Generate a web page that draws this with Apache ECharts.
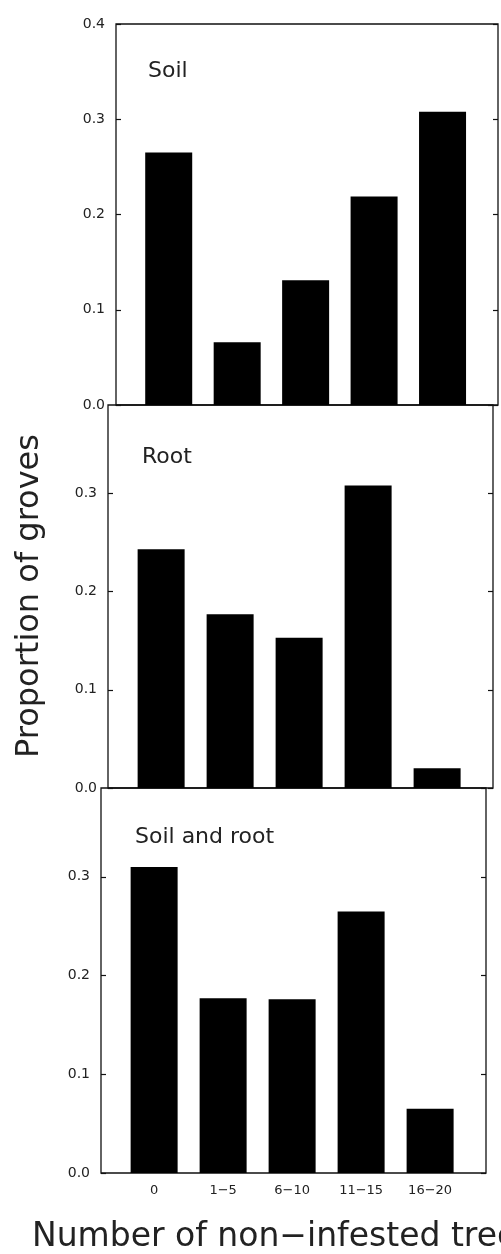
<!DOCTYPE html>
<html>
<head>
<meta charset="utf-8">
<script src="https://cdn.jsdelivr.net/npm/echarts@6/dist/echarts.min.js"></script>
<style>
html,body{margin:0;padding:0;background:#fff;}
#chart{width:501px;height:1254px;}
</style>
</head>
<body>
<div id="chart"></div>
<script>
const categories = ['0', '1\u22125', '6\u221210', '11\u221215', '16\u221220'];
const panelNames = ['Soil', 'Root', 'Soil and root'];
const soil = [0.265, 0.066, 0.131, 0.219, 0.308];
const root = [0.243, 0.177, 0.153, 0.308, 0.020];
const soilAndRoot = [0.310, 0.177, 0.176, 0.265, 0.065];
const panelMax = [0.4, 0.39, 0.39];
const yTitle = 'Proportion of groves';
const xTitle = 'Number of non\u2212infested trees';

const seriesValues = [soil, root, soilAndRoot];
const FONT = 'DejaVu Sans';
const TXT = '#222';

const grids = [
  {top: 24, height: 381, left: 116, right: 3},
  {top: 405, height: 383, left: 108, right: 8},
  {top: 788, height: 385, left: 101, right: 15}
];
const labelPos = [[143, 55], [137, 441], [130, 821]];

const option = {
  backgroundColor: '#fff',
  animation: false,
  grid: grids.map(g => Object.assign({show: true, borderColor: '#111', borderWidth: 1.3, backgroundColor: 'transparent'}, g)),
  xAxis: grids.map((g, i) => ({
    type: 'value', gridIndex: i, min: -0.77, max: 4.81,
    axisLine: {show: false, onZero: false}, splitLine: {show: false},
    axisTick: {show: false},
    axisLabel: i === 2 ? {
      show: true, customValues: categories.map((c, k) => k),
      formatter: v => categories[Math.round(v)],
      fontFamily: FONT, fontSize: 13, color: TXT, margin: 11
    } : {show: false}
  })),
  yAxis: [].concat(...grids.map((g, i) => [
    {
      type: 'value', gridIndex: i, position: 'left', min: 0, max: panelMax[i], interval: 0.1,
      axisLine: {show: false, onZero: false}, splitLine: {show: false},
      axisTick: {show: true, inside: true, length: 5, lineStyle: {color: '#111', width: 1.2}},
      axisLabel: {show: true, showMaxLabel: i === 0, formatter: v => v.toFixed(1),
        fontFamily: FONT, fontSize: 14, color: TXT, margin: 11}
    },
    {
      type: 'value', gridIndex: i, position: 'right', min: 0, max: panelMax[i], interval: 0.1,
      axisLine: {show: false, onZero: false}, splitLine: {show: false},
      axisTick: {show: true, inside: true, length: 5, lineStyle: {color: '#111', width: 1.2}},
      axisLabel: {show: false}
    }
  ])),
  series: seriesValues.map((vals, i) => ({
    type: 'bar', xAxisIndex: i, yAxisIndex: i * 2, barWidth: 47,
    itemStyle: {color: '#000'},
    data: vals.map((v, k) => [k, v])
  })),
  title: panelNames.map((n, i) => ({
    text: n, left: labelPos[i][0], top: labelPos[i][1],
    textStyle: {fontFamily: FONT, fontSize: 22, fontWeight: 'normal', color: TXT}
  })),
  graphic: [
    {type: 'text', x: 30, y: 596, rotation: Math.PI / 2,
      style: {text: yTitle, font: '32px "DejaVu Sans"', fill: TXT, align: 'center', verticalAlign: 'middle'}},
    {type: 'text', x: 32, y: 1237,
      style: {text: xTitle, font: '33px "DejaVu Sans"', fill: TXT, align: 'left', verticalAlign: 'middle'}}
  ]
};

const chart = echarts.init(document.getElementById('chart'), null, {renderer: 'canvas'});
chart.setOption(option);
</script>
</body>
</html>
